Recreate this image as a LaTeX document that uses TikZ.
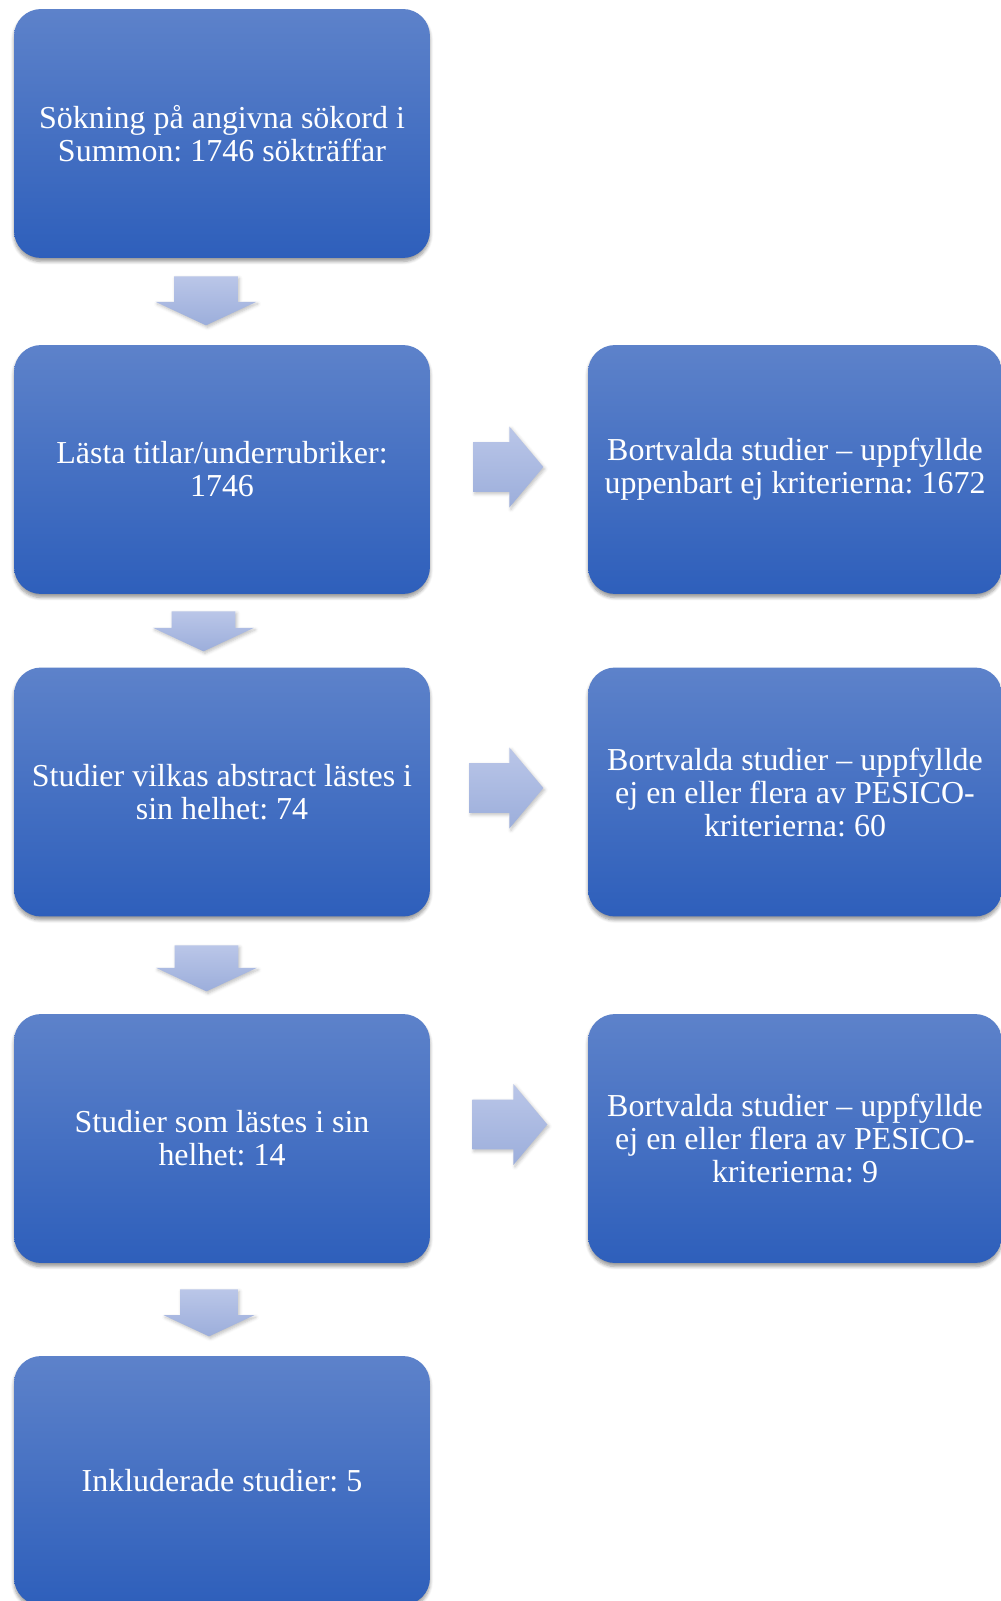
\documentclass[tikz,border=0pt]{standalone}
\usepackage{fontspec}
\setmainfont{Liberation Serif}
\usepackage{tikz}
\usetikzlibrary{shapes.arrows,shadows.blur}
\definecolor{boxtop}{RGB}{93,130,202}
\definecolor{boxbot}{RGB}{46,95,187}
\definecolor{arrtop}{RGB}{186,198,232}
\definecolor{arrbot}{RGB}{156,174,219}
\frenchspacing

\begin{document}
\begin{tikzpicture}[
  x=0.02cm, y=-0.02cm,
  box/.style={rounded corners=0.54cm,minimum width=8.32cm,minimum height=4.98cm,align=center,
    text=white,font=\fontsize{18.2pt}{18.8pt}\selectfont,top color=boxtop,bottom color=boxbot,
    blur shadow={shadow xshift=0pt,shadow yshift=-0.07cm,shadow blur steps=6,shadow opacity=40}},
  side/.style={box,minimum width=8.28cm},
  blk/.style={single arrow,inner xsep=0pt,anchor=tail,top color=arrtop,bottom color=arrbot,
    blur shadow={shadow xshift=0.03cm,shadow yshift=-0.04cm,shadow blur steps=4,shadow opacity=25}},
  down/.style={blk,rotate=-90,inner ysep=0.63cm,single arrow head extend=0.37cm,single arrow tip angle=130},
  right/.style={blk,inner ysep=0.49cm,single arrow head extend=0.31cm,single arrow tip angle=100}
]
\useasboundingbox (0,0) rectangle (1000,1601);

\node[box] (search) at (222,133.5) {Sökning på angivna sökord i\\Summon: 1746 sökträffar};
\node[box] (titles) at (222,469.5) {Lästa titlar/underrubriker:\\1746};
\node[box] (abstr) at (222,792) {Studier vilkas abstract lästes i\\sin helhet: 74};
\node[box] (full) at (222,1138.5) {Studier som lästes i sin\\helhet: 14};
\node[box] (incl) at (222,1480.5) {Inkluderade studier: 5};

\node[side] (out1) at (795,469.5) {Bortvalda studier -- uppfyllde\\uppenbart ej kriterierna: 1672};
\node[side] (out2) at (795,792) {Bortvalda studier -- uppfyllde\\ej en eller flera av PESICO-\\kriterierna: 60};
\node[side] (out3) at (795,1138.5) {Bortvalda studier -- uppfyllde\\ej en eller flera av PESICO-\\kriterierna: 9};

\node[down,minimum height=0.98cm] (d1) at (206,276) {};
\node[down,minimum height=0.8cm] (d2) at (203.5,611) {};
\node[down,minimum height=0.92cm] (d3) at (206.5,945) {};
\node[down,minimum height=0.94cm,inner ysep=0.57cm,single arrow head extend=0.33cm] (d4) at (209,1289) {};

\node[right,minimum height=1.4cm] (r1) at (473,467) {};
\node[right,minimum height=1.48cm] (r2) at (469,788) {};
\node[right,minimum height=1.5cm] (r3) at (472,1124.5) {};
\end{tikzpicture}
\end{document}
